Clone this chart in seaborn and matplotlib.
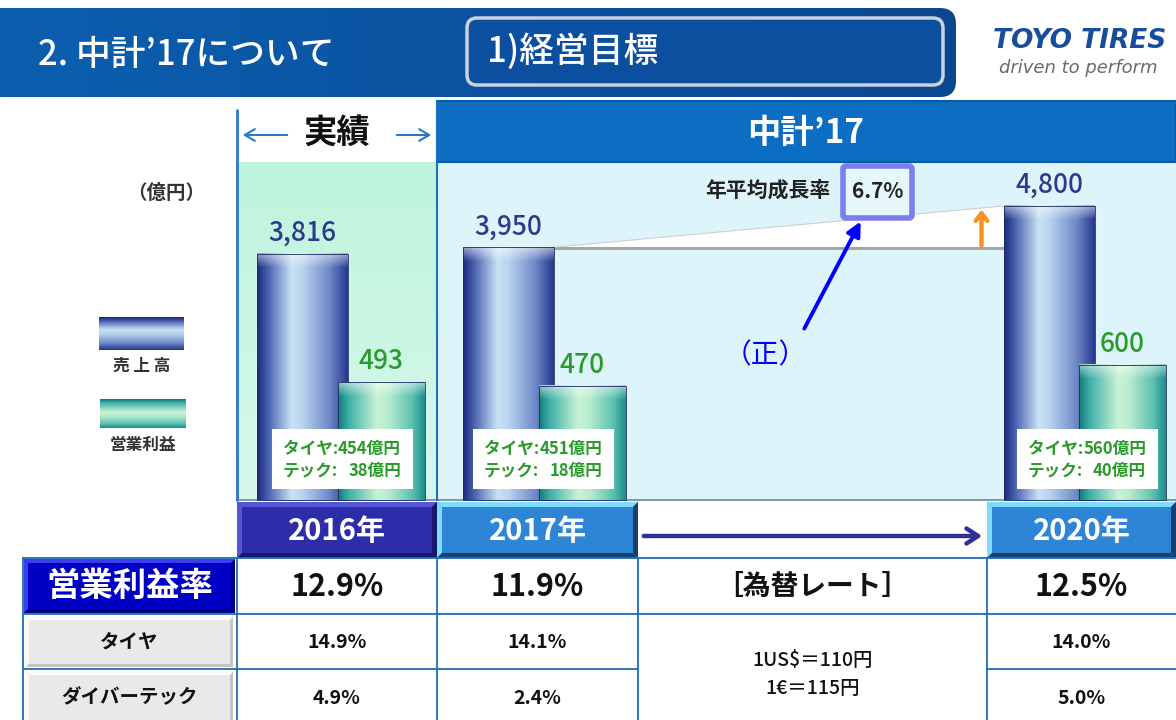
import numpy as np
import matplotlib
matplotlib.use("Agg")
import matplotlib.pyplot as plt
import matplotlib.colors as mcolors
from matplotlib.patches import Rectangle, Polygon, FancyBboxPatch
import seaborn as sns

sns.set_theme(style="white")
plt.rcParams["font.family"] = ["Noto Sans CJK JP", "DejaVu Sans"]

# --------------------------------------------------
# data (億円)
# --------------------------------------------------
years = ["2016年", "2017年", "2020年"]
sales = [3816, 3950, 4800]
profit = [493, 470, 600]
tire_profit = [454, 451, 560]
tech_profit = [38, 18, 40]
margin = [12.9, 11.9, 12.5]
tire_margin = [14.9, 14.1, 14.0]
tech_margin = [4.9, 2.4, 5.0]
cagr = 6.7
fx_rates = ["1US$＝110円", "1€＝115円"]

# --------------------------------------------------
# layout in pixels (origin top-left)
# --------------------------------------------------
W, H = 1176, 720
year_cols = [(237, 437), (437, 638), (987, 1176)]
sales_x = [302, 508, 1049]
profit_x = [381, 582, 1122]
box_x = [272, 473, 1017]
PLOT_TOP, PLOT_BOT = 160, 500

NAVY = "#2b3a8f"
GREEN = "#2a9a2a"
LINE = "#1f6db5"

fig = plt.figure(figsize=(W / 100, H / 100), dpi=100)
fig.patch.set_facecolor("white")


def px_axes(z):
    ax = fig.add_axes([0, 0, 1, 1], zorder=z)
    ax.set_xlim(0, W)
    ax.set_ylim(H, 0)
    ax.axis("off")
    ax.patch.set_visible(False)
    return ax


def bar_axes(z, lift):
    ax = fig.add_axes([0, 1 - PLOT_BOT / H, 1, (PLOT_BOT - PLOT_TOP) / H], zorder=z)
    # the slide stretches the bars: a constant lift is added above zero
    fwd = lambda v: np.where(v < 1, v * (lift + 1), v + lift)
    inv = lambda u: np.where(u < lift + 1, u / (lift + 1), u - lift)
    ax.set_yscale("function", functions=(fwd, inv))
    return ax


def shade(stops, n):
    pos = [p for p, _ in stops]
    rgb = np.array([mcolors.to_rgb(c) for _, c in stops])
    t = np.linspace(0, 1, max(int(round(n)), 2))
    return np.stack([np.interp(t, pos, rgb[:, k]) for k in range(3)], axis=-1)


def bar_image(stops, w, h, bevel=14):
    row = shade(stops, w)
    img = np.repeat(row[None, :, :], max(int(round(h)), 2), axis=0)
    r = np.arange(img.shape[0])[:, None]
    f = np.clip(0.55 * (1 - r / bevel), 0, None)[..., None]
    return img + (1 - img) * f


def bevel_box(ax, x0, y0, x1, y1, face, light, dark, b=5, z=5):
    ax.add_patch(Rectangle((x0, y0), x1 - x0, y1 - y0, fc=face, ec="none", zorder=z))
    ax.add_patch(Polygon([(x0, y0), (x1, y0), (x1 - b, y0 + b), (x0 + b, y0 + b)], fc=light, ec="none", zorder=z))
    ax.add_patch(Polygon([(x0, y0), (x0 + b, y0 + b), (x0 + b, y1 - b), (x0, y1)], fc=light, ec="none", zorder=z))
    ax.add_patch(Polygon([(x1, y0), (x1, y1), (x1 - b, y1 - b), (x1 - b, y0 + b)], fc=dark, ec="none", zorder=z))
    ax.add_patch(Polygon([(x0, y1), (x0 + b, y1 - b), (x1 - b, y1 - b), (x1, y1)], fc=dark, ec="none", zorder=z))


SALES_SHADE = [(0, "#1c2a80"), (0.12, "#4a62b0"), (0.38, "#c9e2f5"), (0.5, "#b9d4ee"),
               (0.8, "#6f88c8"), (1, "#26388f")]
PROFIT_SHADE = [(0, "#167c7a"), (0.12, "#3fb0a8"), (0.45, "#c8f3d4"), (0.58, "#b8ecd0"),
                (0.86, "#5cc0b0"), (1, "#1a8f8c")]

# --------------------------------------------------
# background layer
# --------------------------------------------------
bg = px_axes(0)

band = bg.imshow(shade([(0, "#0c5fb0"), (1, "#0a4790")], 200)[None, :, :],
                 extent=(0, 956, 97, 8), aspect="auto", zorder=1)
band_clip = FancyBboxPatch((-40, 8), 996, 89, boxstyle="round,pad=0,rounding_size=16",
                           fc="none", ec="none", transform=bg.transData)
bg.add_patch(band_clip)
band.set_clip_path(band_clip)
bg.text(38, 55, "2. 中計’17について", color="white", fontsize=25, fontweight="medium", va="center", zorder=3)
bg.add_patch(FancyBboxPatch((467, 18), 476, 67, boxstyle="round,pad=0,rounding_size=10",
                            fc="#0b4f9e", ec="#c9d3de", lw=2.5, zorder=2))
bg.text(487, 52, "1)経営目標", color="white", fontsize=25, fontweight="medium", va="center", zorder=3)
bg.text(1080, 41, "TOYO TIRES", color="#1a4c9c", fontsize=19, fontweight="heavy", style="italic",
        family="DejaVu Sans", ha="center", va="center")
bg.text(1078, 68, "driven to perform", color="#6a6a6a", fontsize=13, style="italic",
        family="DejaVu Sans", ha="center", va="center")

# panels
bg.imshow(shade([(0, "#bff4de"), (1, "#d6f8ea")], 100)[:, None, :],
          extent=(237, 437, PLOT_BOT, PLOT_TOP + 2), aspect="auto", zorder=1)
bg.add_patch(Rectangle((437, PLOT_TOP + 2), W - 437, PLOT_BOT - PLOT_TOP - 2, fc="#ddf5fa", ec="none", zorder=1))
bg.plot([237, W], [PLOT_BOT, PLOT_BOT], color="#8a9aa5", lw=1.5, zorder=2)

# headers
bg.plot([237, 237], [110, PLOT_BOT], color="#2a78c8", lw=2, zorder=3)
bg.text(337, 133, "実績", fontsize=24, fontweight="bold", ha="center", va="center", color="#111111")
for a, b in ((290, 240), (394, 434)):
    bg.annotate("", xy=(b, 135), xytext=(a, 135),
                arrowprops=dict(arrowstyle="->,head_width=0.35,head_length=0.6", color="#2a78c8", lw=1.5))
bg.add_patch(Rectangle((437, 101), W - 437, PLOT_TOP + 2 - 101, fc="#0b6ec2", ec="#0a5aa5", lw=1.5, zorder=2))
bg.text(806, 133, "中計’17", fontsize=24, fontweight="bold", color="white", ha="center", va="center", zorder=3)
bg.plot([437, 437], [101, PLOT_BOT], color="#1f70c0", lw=1.5, zorder=3)

# legend
bg.text(166, 193, "（億円）", fontsize=14, fontweight="bold", color="#333333", ha="center", va="center")
bg.imshow(shade(SALES_SHADE, 40)[:, None, :], extent=(99, 184, 350, 317), aspect="auto", zorder=2)
bg.text(142, 366, "売 上 高", fontsize=12, fontweight="bold", color="#333333", ha="center", va="center")
bg.imshow(shade(PROFIT_SHADE, 40)[:, None, :], extent=(100, 186, 428, 399), aspect="auto", zorder=2)
bg.text(143, 445, "営業利益", fontsize=12, fontweight="bold", color="#333333", ha="center", va="center")

# --------------------------------------------------
# bars
# --------------------------------------------------
ax_s = bar_axes(1, 1262)
sns.barplot(x=sales_x, y=sales, native_scale=True, orient="x", width=91 / 206,
            errorbar=None, color="#3a4fa0", ax=ax_s)
ax_p = bar_axes(2, 236)
sns.barplot(x=profit_x, y=profit, native_scale=True, orient="x", width=87 / 201,
            errorbar=None, color="#2aa39c", ax=ax_p)
for ax, top in ((ax_s, 5748), (ax_p, 1869)):
    ax.set_xlim(0, W)
    ax.set_ylim(0, top)
    ax.axis("off")
    ax.patch.set_visible(False)


def extents(ax):
    out = []
    for p in ax.patches:
        bb = p.get_window_extent()
        out.append((bb.x0, bb.x1, H - bb.y1, H - bb.y0))
    return out


fg = px_axes(3)
s_ext = extents(ax_s)
p_ext = extents(ax_p)

for ext, stops, z, col, vals in ((s_ext, SALES_SHADE, 2, NAVY, sales),
                                 (p_ext, PROFIT_SHADE, 3, GREEN, profit)):
    for (x0, x1, yt, yb), v in zip(ext, vals):
        fg.imshow(bar_image(stops, x1 - x0, yb - yt), extent=(x0, x1, yb, yt),
                  aspect="auto", interpolation="bilinear", zorder=z)
        fg.add_patch(Rectangle((x0, yt), x1 - x0, yb - yt, fc="none", ec="#1a2a60", lw=0.6, zorder=z))
        fg.text((x0 + x1) / 2, yt - 7, f"{v:,}", fontsize=19, fontweight="medium", color=col,
                ha="center", va="bottom", zorder=6)

# growth wedge 2017 -> 2020
x17, t17 = s_ext[1][1], s_ext[1][2]
x20, t20 = s_ext[2][0], s_ext[2][2]
fg.add_patch(Polygon([(x17, t17), (x20, t20), (x20, t17)], fc="white", ec="none", zorder=1))
fg.plot([x17, x20], [t17 + 1, t17 + 1], color="#a5a5a5", lw=2.2, zorder=1)
fg.plot([x17, x20], [t17, t20], color="#cfcfcf", lw=0.8, zorder=1)
fg.annotate("", xy=(x20 - 22, t20 + 1), xytext=(x20 - 22, t17 + 1),
            arrowprops=dict(arrowstyle="->,head_width=0.35,head_length=0.45", color="#f7931e", lw=3.2), zorder=4)

fg.text(705, 190, "年平均成長率", fontsize=15, fontweight="bold", color="#222222", va="center")
fg.add_patch(FancyBboxPatch((843, 166), 69, 52, boxstyle="round,pad=0,rounding_size=3",
                            fc="#e6f7fb", ec="#7b7ef0", lw=4, zorder=4))
fg.text(877.5, 192, f"{cagr}%", fontsize=15, fontweight="bold", color="#222222", ha="center", va="center", zorder=5)
fg.annotate("", xy=(862, 219), xytext=(803, 331),
            arrowprops=dict(arrowstyle="-|>,head_width=0.35,head_length=0.7", color="#0000ff", lw=2.8), zorder=4)
fg.text(765, 355, "（正）", fontsize=20, color="#0000ff", ha="center", va="center", zorder=5)

# segment labels inside bars
for i, x0 in enumerate(box_x):
    fg.add_patch(Rectangle((x0, 429), 141, 60, fc="white", ec="none", zorder=5))
    fg.text(x0 + 11, 449, "タイヤ:", fontsize=12, fontweight="bold", color=GREEN, va="center", zorder=6)
    fg.text(x0 + 129, 449, f"{tire_profit[i]}億円", fontsize=12, fontweight="bold", color=GREEN,
            ha="right", va="center", zorder=6)
    fg.text(x0 + 11, 471, "テック:", fontsize=12, fontweight="bold", color=GREEN, va="center", zorder=6)
    fg.text(x0 + 129, 471, f"{tech_profit[i]}億円", fontsize=12, fontweight="bold", color=GREEN,
            ha="right", va="center", zorder=6)

# --------------------------------------------------
# year header row
# --------------------------------------------------
year_style = [("#2d2daa", "#5656d8", "#17176e"), ("#2e85d6", "#80dcff", "#17406e"),
              ("#2e85d6", "#80dcff", "#17406e")]
for (a, b), label, (face, light, dark) in zip(year_cols, years, year_style):
    bevel_box(fg, a, 502, b, 558, face, light, dark, b=5)
    fg.text((a + b) / 2, 531, label, fontsize=21, fontweight="bold", color="white",
            ha="center", va="center", zorder=6)
fg.annotate("", xy=(985, 536), xytext=(641, 536),
            arrowprops=dict(arrowstyle="->,head_width=0.45,head_length=0.7", color="#2e3192", lw=3.2), zorder=6)

# --------------------------------------------------
# table
# --------------------------------------------------
col_lines = [23, 237, 437, 638, 987]
for x in col_lines:
    fg.plot([x, x], [558, H], color=LINE, lw=1.3, zorder=7)
fg.plot([23, W], [558, 558], color=LINE, lw=1.3, zorder=7)
fg.plot([23, W], [614, 614], color=LINE, lw=1.3, zorder=7)
fg.plot([23, 638], [669, 669], color=LINE, lw=1.3, zorder=7)
fg.plot([987, W], [669, 669], color=LINE, lw=1.3, zorder=7)

bevel_box(fg, 24, 559, 235, 613, "#0000c4", "#3c3cf0", "#00007a", b=4)
fg.text(129.5, 586, "営業利益率", fontsize=24, fontweight="bold", color="white", ha="center", va="center", zorder=6)
bevel_box(fg, 26, 617, 233, 667, "#e9e9e9", "#fbfbfb", "#c4c4c4", b=3)
fg.text(129.5, 642, "タイヤ", fontsize=14, fontweight="bold", color="#111111", ha="center", va="center", zorder=6)
bevel_box(fg, 26, 672, 233, 723, "#e9e9e9", "#fbfbfb", "#c4c4c4", b=3)
fg.text(129.5, 698, "ダイバーテック", fontsize=14, fontweight="bold", color="#111111", ha="center", va="center", zorder=6)

for (a, b), m, tm, dm in zip(year_cols, margin, tire_margin, tech_margin):
    cx = (a + b) / 2
    fg.text(cx, 587, f"{m:.1f}%", fontsize=22, fontweight="bold", color="#111111", ha="center", va="center", zorder=6)
    fg.text(cx, 643, f"{tm:.1f}%", fontsize=14, fontweight="bold", color="#111111", ha="center", va="center", zorder=6)
    fg.text(cx, 699, f"{dm:.1f}%", fontsize=14, fontweight="bold", color="#111111", ha="center", va="center", zorder=6)

fg.text(812.5, 587, "［為替レート］", fontsize=20, fontweight="bold", color="#111111", ha="center", va="center", zorder=6)
for y, t in zip((660, 688), fx_rates):
    fg.text(812.5, y, t, fontsize=14, fontweight="medium", color="#111111", ha="center", va="center", zorder=6)

fig.savefig("out.png", dpi=100)
